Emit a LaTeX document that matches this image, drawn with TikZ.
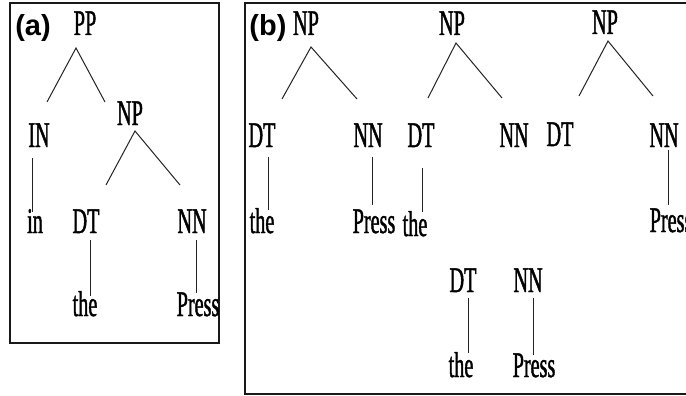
\documentclass[tikz,border=0pt]{standalone}
\usepackage{fontspec}
\usepackage{tikz}
\newfontfamily\treefont[FakeStretch=0.56, FakeBold=1.2]{Liberation Serif}
\newfontfamily\panelfont{Liberation Sans}
\definecolor{cadre}{RGB}{25,25,25}
\definecolor{trait}{RGB}{35,35,35}

\tikzset{
  tag/.style={anchor=base, inner sep=0pt, font=\treefont\fontsize{36}{36}\selectfont},
  word/.style={tag},
  panel/.style={anchor=base, inner sep=0pt, font=\panelfont\bfseries\fontsize{29}{29}\selectfont},
  branch/.style={trait, line width=1pt},
  frame/.style={cadre, line width=1.8pt}
}

\begin{document}
\begin{tikzpicture}[x=1pt, y=-1pt]
    \useasboundingbox (0,0) rectangle (686,396);

    % Cadres des deux panneaux
    \draw[frame] (10,3) rectangle (219,343);
    \draw[frame] (245,3) rectangle (720,394);

    % Panneau (a) : PP -> IN NP
    \node[panel] (laba) at (33,36) {(a)};
    \node[tag] (ppa) at (85,35) {PP};
    \node[tag] (ina) at (39,147) {IN};
    \node[tag] (npa) at (130,125) {NP};
    \node[tag] (dta) at (86,233) {DT};
    \node[tag] (nna) at (192,233) {NN};
    \node[word] (wina) at (35,233) {in};
    \node[word] (thea) at (85,316) {the};
    \node[word] (pressa) at (198,316) {Press};

    % Panneau (b) : trois NP et une paire isolee
    \node[panel] (labb) at (268,36) {(b)};
    \node[tag] (npb1) at (306,35) {NP};
    \node[tag] (npb2) at (452,35) {NP};
    \node[tag] (npb3) at (605,34) {NP};
    \node[tag] (dtb1) at (262,147) {DT};
    \node[tag] (nnb1) at (368,147) {NN};
    \node[tag] (dtb2) at (421,147) {DT};
    \node[tag] (nnb2) at (514,147) {NN};
    \node[tag] (dtb3) at (560,146) {DT};
    \node[tag] (nnb3) at (664,147) {NN};
    \node[word] (theb1) at (262,233) {the};
    \node[word] (pressb1) at (374,233) {Press};
    \node[word] (theb2) at (415,236) {the};
    \node[word] (pressb3) at (671,232) {Press};
    \node[tag] (dtb4) at (463,292) {DT};
    \node[tag] (nnb4) at (528,292) {NN};
    \node[word] (theb4) at (461,377) {the};
    \node[word] (pressb4) at (534,377) {Press};

    % Branches en V sous chaque syntagme
    \foreach \p/\ax/\ay/\lx/\ly/\rx/\ry in {ppa/76/48/47/102/105/102,
                                            npa/135/131/106/185/180/185,
                                            npb1/311/47/282/99/357/99,
                                            npb2/456/43/428/98/502/98,
                                            npb3/608/41/579/96/653/96} {
      \coordinate (\p-top) at (\ax,\ay);
      \coordinate (\p-l) at (\lx,\ly);
      \coordinate (\p-r) at (\rx,\ry);
      \draw[branch] (\p-l) -- (\p-top) -- (\p-r);
    }

    % Liens verticaux etiquette -> mot
    \foreach \up/\low/\dx/\ga/\gb in {ina/wina/-7/11/21, dta/thea/4/7/20,
                                      nna/pressa/4/7/23, dtb1/theb1/6/10/23,
                                      nnb1/pressb1/4/10/28, dtb2/theb2/1/21/24,
                                      nnb3/pressb3/4/3/27, dtb4/theb4/5/6/24,
                                      nnb4/pressb4/5/6/22} {
      \draw[branch] ([xshift=\dx pt, yshift=-\ga pt]\up.base)
        -- ([xshift=\dx pt, yshift=\gb pt]\up.base |- \low.base);
    }

\end{tikzpicture}
\end{document}
